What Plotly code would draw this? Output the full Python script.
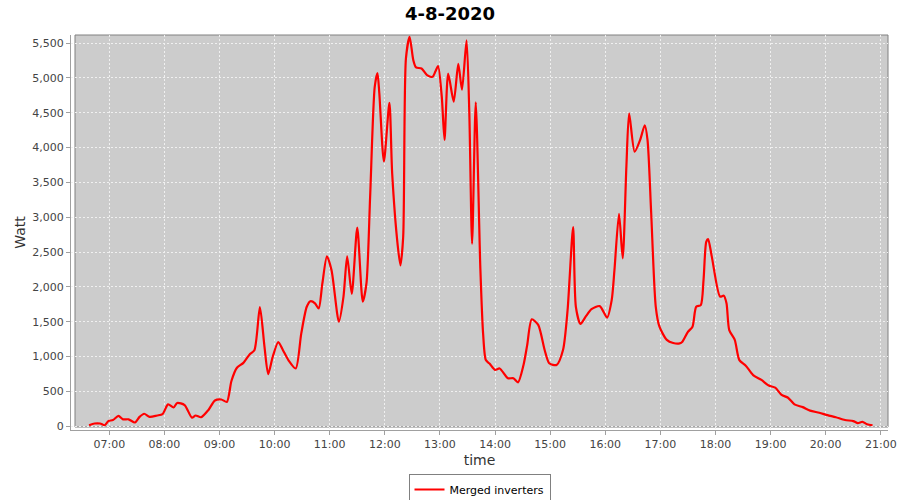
import plotly.graph_objects as go

title_text = "4-8-2020"
series_name = "Merged inverters"
day = "2020-08-04"

times = ["06:38","06:44","06:50","06:55","06:59","07:04","07:10","07:15","07:21","07:28",
         "07:33","07:38","07:44","07:52","07:58","08:04","08:10","08:14","08:22","08:30",
         "08:34","08:40","08:48","08:55","09:02","09:08","09:13","09:19","09:26","09:33",
         "09:38","09:44","09:49","09:53","09:58","10:04","10:09","10:15","10:23","10:29",
         "10:35","10:39","10:44","10:48","10:52","10:57","11:02","11:10","11:15","11:19",
         "11:24","11:30","11:36","11:40","11:44","11:49","11:52","11:54","11:59","12:05",
         "12:08","12:14","12:17","12:20","12:23","12:27","12:31","12:34","12:40","12:46",
         "12:52","12:55","12:58","13:02","13:05","13:09","13:15","13:20","13:24","13:29",
         "13:32","13:35","13:39","13:44","13:47","13:50","13:54","14:00","14:05","14:14",
         "14:20","14:25","14:31","14:35","14:40","14:47","14:54","14:59","15:07","15:14",
         "15:19","15:25","15:28","15:33","15:39","15:45","15:54","16:02","16:07","16:10",
         "16:15","16:19","16:23","16:26","16:32","16:38","16:43","16:46","16:50","16:55",
         "16:59","17:07","17:14","17:21","17:24","17:30","17:35","17:39","17:44","17:47",
         "17:50","17:52","17:56","18:05","18:09","18:12","18:15","18:21","18:26","18:33",
         "18:41","18:50","18:58","19:05","19:12","19:19","19:26","19:35","19:43","19:53",
         "20:02","20:11","20:21","20:30","20:35","20:40","20:45","20:51"]

watts = [15,40,40,15,75,90,150,100,100,55,
         135,180,135,155,175,315,270,335,305,125,
         155,130,235,370,385,350,650,840,910,1035,
         1090,1710,1140,750,1000,1210,1095,950,830,1330,
         1715,1795,1765,1690,2050,2440,2240,1500,1860,2440,
         1900,2850,1790,2050,3290,4870,5070,4780,3800,4640,
         3630,2600,2310,2720,5280,5590,5255,5150,5135,5040,
         5015,5090,5170,4730,4110,5060,4660,5200,4830,5540,
         4490,2620,4650,2270,1330,950,900,810,830,690,
         690,630,880,1165,1535,1455,1095,905,880,1095,
         1670,2860,1715,1470,1580,1680,1725,1560,1810,2240,
         3050,2410,3725,4490,3940,4110,4320,4110,3060,1715,
         1430,1240,1195,1190,1215,1355,1430,1715,1740,2100,
         2650,2685,2435,1860,1875,1765,1380,1240,950,870,
         735,665,585,555,450,410,315,275,225,195,
         160,130,90,75,45,65,30,15]

x_vals = [f"{day} {t}" for t in times]

font_family = "DejaVu Sans"
grey_bg = "#CCCCCC"

fig = go.Figure()
fig.add_trace(go.Scatter(
    x=x_vals, y=watts, mode="lines", name=series_name,
    line=dict(color="#FF0000", width=2.2, shape="spline", smoothing=0.7),
    showlegend=True,
))

fig.update_layout(
    width=900, height=500,
    margin=dict(l=71, r=12, t=35, b=70, autoexpand=False),
    paper_bgcolor="white",
    plot_bgcolor="white",
    font=dict(family=font_family, size=11, color="#444444"),
    title=dict(text=f"<b>{title_text}</b>", x=0.5, xanchor="center",
               yref="container", y=1 - 14/500, yanchor="middle",
               font=dict(family=font_family, size=18, color="black")),
    showlegend=True,
    legend=dict(orientation="h", x=0.5, xanchor="center",
                yref="container", y=1 - 474/500, yanchor="top",
                bordercolor="#808080", borderwidth=1, bgcolor="white",
                font=dict(family=font_family, size=11, color="black"),
                itemwidth=30, tracegroupgap=0),
    shapes=[dict(type="rect", xref="x domain", yref="y domain",
                 x0=4/817, x1=1, y0=3/395, y1=1,
                 fillcolor=grey_bg, line=dict(color="#808080", width=1), layer="below")],
)

fig.update_xaxes(
    type="date",
    range=[f"{day} 06:18:20", f"{day} 21:07:50"],
    tick0=f"{day} 07:00", dtick=3600000, tickformat="%H:%M",
    showgrid=True, gridcolor="#F0F0F0", griddash="2px,2px", gridwidth=1,
    showline=True, linecolor="#A0A0A0", linewidth=1,
    ticks="outside", ticklen=4, tickcolor="#A0A0A0",
    zeroline=False, automargin=False,
    title=dict(text="time", font=dict(family=font_family, size=14, color="#333333"), standoff=4),
)
fig.update_yaxes(
    range=[-53, 5615],
    tick0=0, dtick=500, tickformat=",",
    showgrid=True, gridcolor="#F0F0F0", griddash="2px,2px", gridwidth=1,
    showline=True, linecolor="#A0A0A0", linewidth=1,
    ticks="outside", ticklen=4, tickcolor="#A0A0A0",
    zeroline=False, automargin=False,
    title=dict(text="Watt", font=dict(family=font_family, size=14, color="#333333"), standoff=3),
)

fig.write_html("out.html",
               config={"displayModeBar": False},
               post_script="document.body.style.margin='0';document.body.style.overflow='hidden';")
